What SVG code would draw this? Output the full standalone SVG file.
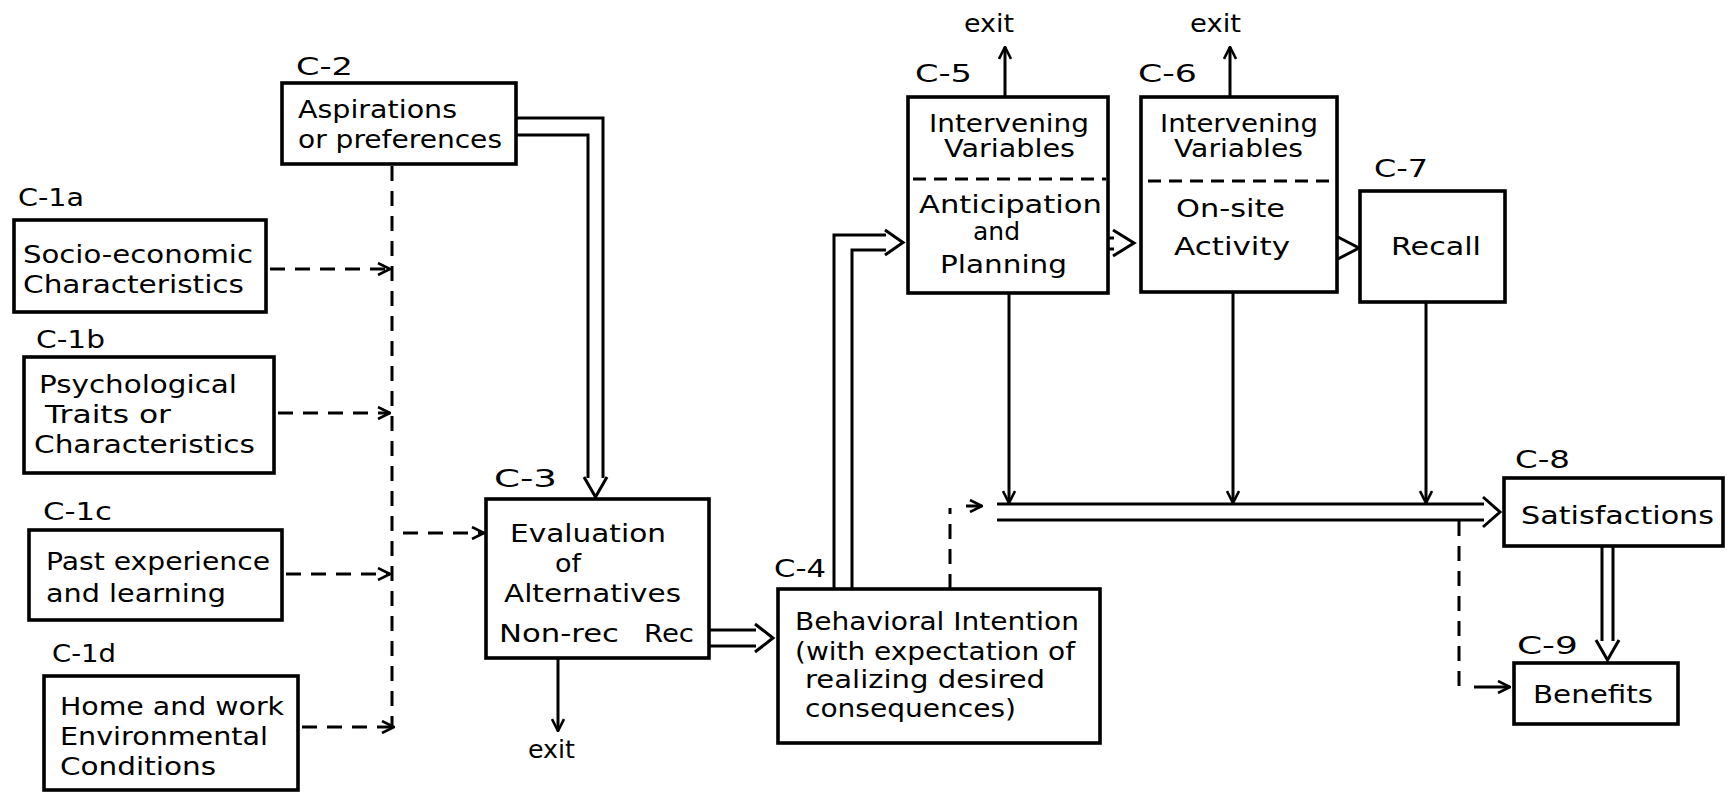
<svg xmlns="http://www.w3.org/2000/svg" width="1731" height="800" viewBox="0 0 1731 800">
<style>
.box{fill:#fff;stroke:#000;stroke-width:3.6}
.ln{fill:none;stroke:#000;stroke-width:3;stroke-linejoin:miter}
.dash{stroke-dasharray:15 10}
.sep{fill:none;stroke:#000;stroke-width:3;stroke-dasharray:13 8}
text{font-family:"DejaVu Sans","Liberation Sans",sans-serif;font-size:24px;fill:#000}
</style>
<defs>
<marker id="chev" viewBox="0 0 14 14" refX="13" refY="7" markerWidth="14" markerHeight="14" markerUnits="userSpaceOnUse" orient="auto">
<path d="M1,1 L13,7 L1,13" fill="none" stroke="#000" stroke-width="2.6" stroke-dasharray="none"/>
</marker>
</defs>
<rect width="1731" height="800" fill="#fff"/>

<g id="connectors">
<path class="ln dash" d="M392,166 V729"/>
<path class="ln dash" d="M270,269 H390" marker-end="url(#chev)"/>
<path class="ln dash" d="M278,413 H390" marker-end="url(#chev)"/>
<path class="ln dash" d="M286,574 H390" marker-end="url(#chev)"/>
<path class="ln dash" d="M302,727 H394" marker-end="url(#chev)"/>
<path class="ln dash" d="M403,533 H484" marker-end="url(#chev)"/>
<path class="ln" d="M516,118 H603 V478"/>
<path class="ln" d="M516,135 H588 V478"/>
<path class="ln" d="M584,477 L595.5,497 L607,477"/>
<path class="ln" d="M558,658 V731" marker-end="url(#chev)"/>
<path class="ln" d="M709,630 H756 M709,646 H756"/>
<path class="ln" d="M755,624 L773,638 L755,652"/>
<path class="ln" d="M834,589 V235 H886"/>
<path class="ln" d="M852,589 V250 H886"/>
<path class="ln" d="M885,230 L903,242.5 L885,255"/>
<path class="ln dash" d="M950,589 V508"/>
<path class="ln" d="M966,506 H982" marker-end="url(#chev)"/>
<path class="ln" d="M1005,97 V47" marker-end="url(#chev)"/>
<path class="ln" d="M1230,97 V47" marker-end="url(#chev)"/>
<path class="ln" d="M1108,238 H1114 M1108,249 H1114"/>
<path class="ln" d="M1113,230 L1134,243 L1113,256"/>
<path class="ln" d="M1336,236 L1359,248 L1336,260"/>
<path class="ln" d="M1009,293 V503" marker-end="url(#chev)"/>
<path class="ln" d="M1233,292 V503" marker-end="url(#chev)"/>
<path class="ln" d="M1426,302 V503" marker-end="url(#chev)"/>
<path class="ln" d="M997,504 H1484 M997,520 H1484"/>
<path class="ln" d="M1483,497 L1500,512 L1483,527"/>
<path class="ln dash" d="M1459,521 V687"/>
<path class="ln" d="M1474,687 H1510" marker-end="url(#chev)"/>
<path class="ln" d="M1602,546 V641 M1613,546 V641"/>
<path class="ln" d="M1596,640 L1607.5,660 L1619,640"/>
</g>

<g id="c1a">
<text x="18" y="206" textLength="66" lengthAdjust="spacingAndGlyphs">C-1a</text>
<rect class="box" x="14" y="220" width="252" height="92"/>
<text x="23" y="263" textLength="230" lengthAdjust="spacingAndGlyphs">Socio-economic</text>
<text x="23" y="293" textLength="221" lengthAdjust="spacingAndGlyphs">Characteristics</text>
</g>
<g id="c1b">
<text x="36" y="348" textLength="69" lengthAdjust="spacingAndGlyphs">C-1b</text>
<rect class="box" x="24" y="357" width="250" height="116"/>
<text x="39" y="393" textLength="198" lengthAdjust="spacingAndGlyphs">Psychological</text>
<text x="45" y="423" textLength="126" lengthAdjust="spacingAndGlyphs">Traits or</text>
<text x="34" y="453" textLength="221" lengthAdjust="spacingAndGlyphs">Characteristics</text>
</g>
<g id="c1c">
<text x="43" y="520" textLength="69" lengthAdjust="spacingAndGlyphs">C-1c</text>
<rect class="box" x="29" y="530" width="253" height="90"/>
<text x="46" y="570" textLength="224" lengthAdjust="spacingAndGlyphs">Past experience</text>
<text x="46" y="602" textLength="180" lengthAdjust="spacingAndGlyphs">and learning</text>
</g>
<g id="c1d">
<text x="52" y="662" textLength="64" lengthAdjust="spacingAndGlyphs">C-1d</text>
<rect class="box" x="44" y="676" width="254" height="114"/>
<text x="60" y="715" textLength="224" lengthAdjust="spacingAndGlyphs">Home and work</text>
<text x="60" y="745" textLength="208" lengthAdjust="spacingAndGlyphs">Environmental</text>
<text x="60" y="775" textLength="156" lengthAdjust="spacingAndGlyphs">Conditions</text>
</g>
<g id="c2">
<text x="296" y="75" textLength="57" lengthAdjust="spacingAndGlyphs">C-2</text>
<rect class="box" x="282" y="83" width="234" height="81"/>
<text x="298" y="118" textLength="159" lengthAdjust="spacingAndGlyphs">Aspirations</text>
<text x="298" y="148" textLength="204" lengthAdjust="spacingAndGlyphs">or preferences</text>
</g>
<g id="c3">
<text x="494" y="487" textLength="63" lengthAdjust="spacingAndGlyphs">C-3</text>
<rect class="box" x="486" y="499" width="223" height="159"/>
<text x="510" y="542" textLength="156" lengthAdjust="spacingAndGlyphs">Evaluation</text>
<text x="555" y="572" textLength="26" lengthAdjust="spacingAndGlyphs">of</text>
<text x="504" y="602" textLength="177" lengthAdjust="spacingAndGlyphs">Alternatives</text>
<text x="499" y="642" textLength="120" lengthAdjust="spacingAndGlyphs">Non-rec</text>
<text x="644" y="642" textLength="50" lengthAdjust="spacingAndGlyphs">Rec</text>
<text x="528" y="758" textLength="47" lengthAdjust="spacingAndGlyphs">exit</text>
</g>
<g id="c4">
<text x="774" y="577" textLength="52" lengthAdjust="spacingAndGlyphs">C-4</text>
<rect class="box" x="778" y="589" width="322" height="154"/>
<text x="795" y="630" textLength="284" lengthAdjust="spacingAndGlyphs">Behavioral Intention</text>
<text x="795" y="660" textLength="280" lengthAdjust="spacingAndGlyphs">(with expectation of</text>
<text x="805" y="688" textLength="240" lengthAdjust="spacingAndGlyphs">realizing desired</text>
<text x="805" y="717" textLength="211" lengthAdjust="spacingAndGlyphs">consequences)</text>
</g>
<g id="c5">
<text x="964" y="32" textLength="50" lengthAdjust="spacingAndGlyphs">exit</text>
<text x="915" y="82" textLength="57" lengthAdjust="spacingAndGlyphs">C-5</text>
<rect class="box" x="908" y="97" width="200" height="196"/>
<text x="929" y="132" textLength="160" lengthAdjust="spacingAndGlyphs">Intervening</text>
<text x="944" y="157" textLength="131" lengthAdjust="spacingAndGlyphs">Variables</text>
<path class="sep" d="M913,179 H1106"/>
<text x="919" y="213" textLength="183" lengthAdjust="spacingAndGlyphs">Anticipation</text>
<text x="973" y="240" textLength="47" lengthAdjust="spacingAndGlyphs">and</text>
<text x="940" y="273" textLength="127" lengthAdjust="spacingAndGlyphs">Planning</text>
</g>
<g id="c6">
<text x="1190" y="32" textLength="51" lengthAdjust="spacingAndGlyphs">exit</text>
<text x="1138" y="82" textLength="59" lengthAdjust="spacingAndGlyphs">C-6</text>
<rect class="box" x="1141" y="97" width="196" height="195"/>
<text x="1160" y="132" textLength="158" lengthAdjust="spacingAndGlyphs">Intervening</text>
<text x="1174" y="157" textLength="129" lengthAdjust="spacingAndGlyphs">Variables</text>
<path class="sep" d="M1148,181 H1334"/>
<text x="1176" y="217" textLength="109" lengthAdjust="spacingAndGlyphs">On-site</text>
<text x="1174" y="255" textLength="116" lengthAdjust="spacingAndGlyphs">Activity</text>
</g>
<g id="c7">
<text x="1374" y="177" textLength="54" lengthAdjust="spacingAndGlyphs">C-7</text>
<rect class="box" x="1360" y="191" width="145" height="111"/>
<text x="1391" y="255" textLength="90" lengthAdjust="spacingAndGlyphs">Recall</text>
</g>
<g id="c8">
<text x="1515" y="468" textLength="55" lengthAdjust="spacingAndGlyphs">C-8</text>
<rect class="box" x="1504" y="478" width="219" height="68"/>
<text x="1521" y="524" textLength="193" lengthAdjust="spacingAndGlyphs">Satisfactions</text>
</g>
<g id="c9">
<text x="1517" y="654" textLength="61" lengthAdjust="spacingAndGlyphs">C-9</text>
<rect class="box" x="1514" y="663" width="164" height="61"/>
<text x="1533" y="703" textLength="120" lengthAdjust="spacingAndGlyphs">Benefits</text>
</g>
</svg>
